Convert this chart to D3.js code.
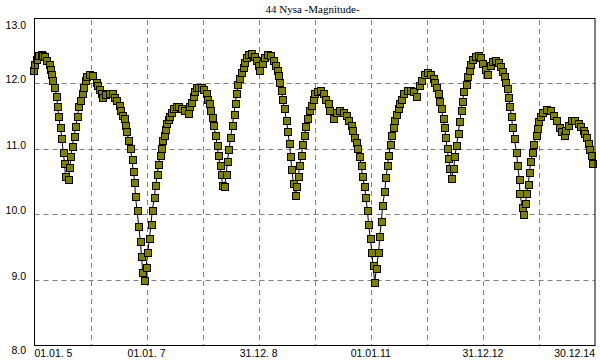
<!DOCTYPE html>
<html>
<head>
<meta charset="utf-8">
<script src="https://cdn.jsdelivr.net/npm/d3@7"></script>
<style>
  body { margin: 0; background: #fff; }
  svg { display: block; }
  .tick-label { font-family: "Liberation Sans", Arial, sans-serif; font-size: 10.5px; fill: #000; }
  .title { font-family: "Liberation Serif", "Times New Roman", serif; font-size: 11px; fill: #000; }
</style>
</head>
<body>
<div id="chart"></div>
<script>
  // decimal year of each ephemeris point
  const years = [
    2004.98, 2005.00, 2005.03, 2005.08, 2005.12, 2005.15, 2005.18, 2005.22, 2005.26, 2005.28,
    2005.30, 2005.33, 2005.36, 2005.40, 2005.41, 2005.43, 2005.46, 2005.49, 2005.51, 2005.54,
    2005.55, 2005.60, 2005.63, 2005.65, 2005.67, 2005.71, 2005.73, 2005.77, 2005.79, 2005.82,
    2005.85, 2005.88, 2005.91, 2005.93, 2005.98, 2006.04, 2006.10, 2006.13, 2006.16, 2006.19,
    2006.22, 2006.27, 2006.33, 2006.39, 2006.43, 2006.47, 2006.51, 2006.53, 2006.57, 2006.60,
    2006.63, 2006.65, 2006.68, 2006.71, 2006.74, 2006.76, 2006.79, 2006.80, 2006.83, 2006.86,
    2006.89, 2006.91, 2006.93, 2006.96, 2006.99, 2007.02, 2007.05, 2007.08, 2007.10, 2007.14,
    2007.16, 2007.19, 2007.21, 2007.24, 2007.27, 2007.29, 2007.32, 2007.34, 2007.36, 2007.39,
    2007.41, 2007.45, 2007.48, 2007.53, 2007.57, 2007.63, 2007.68, 2007.74, 2007.77, 2007.80,
    2007.83, 2007.86, 2007.89, 2007.93, 2007.98, 2008.02, 2008.06, 2008.09, 2008.12, 2008.14,
    2008.17, 2008.20, 2008.23, 2008.26, 2008.28, 2008.31, 2008.33, 2008.36, 2008.39, 2008.42,
    2008.44, 2008.47, 2008.50, 2008.53, 2008.56, 2008.58, 2008.61, 2008.63, 2008.66, 2008.69,
    2008.72, 2008.75, 2008.78, 2008.82, 2008.88, 2008.93, 2008.96, 2009.00, 2009.02, 2009.06,
    2009.11, 2009.16, 2009.21, 2009.26, 2009.30, 2009.33, 2009.36, 2009.38, 2009.41, 2009.43,
    2009.46, 2009.50, 2009.52, 2009.55, 2009.57, 2009.59, 2009.62, 2009.66, 2009.68, 2009.71,
    2009.73, 2009.76, 2009.79, 2009.82, 2009.84, 2009.87, 2009.91, 2009.94, 2009.97, 2010.00,
    2010.05, 2010.11, 2010.15, 2010.20, 2010.24, 2010.27, 2010.33, 2010.39, 2010.45, 2010.52,
    2010.57, 2010.61, 2010.66, 2010.68, 2010.71, 2010.74, 2010.77, 2010.80, 2010.83, 2010.85,
    2010.89, 2010.91, 2010.94, 2010.96, 2010.99, 2011.02, 2011.04, 2011.07, 2011.10, 2011.14,
    2011.16, 2011.19, 2011.21, 2011.25, 2011.27, 2011.30, 2011.32, 2011.35, 2011.37, 2011.41,
    2011.43, 2011.46, 2011.49, 2011.52, 2011.55, 2011.59, 2011.65, 2011.71, 2011.77, 2011.82,
    2011.86, 2011.91, 2011.95, 2012.01, 2012.07, 2012.11, 2012.14, 2012.17, 2012.20, 2012.23,
    2012.26, 2012.29, 2012.32, 2012.34, 2012.36, 2012.39, 2012.41, 2012.44, 2012.48, 2012.50,
    2012.53, 2012.56, 2012.59, 2012.61, 2012.64, 2012.66, 2012.70, 2012.72, 2012.76, 2012.78,
    2012.82, 2012.86, 2012.92, 2012.96, 2013.00, 2013.04, 2013.08, 2013.13, 2013.17, 2013.23,
    2013.27, 2013.32, 2013.35, 2013.38, 2013.41, 2013.43, 2013.46, 2013.48, 2013.51, 2013.53,
    2013.56, 2013.60, 2013.62, 2013.65, 2013.66, 2013.70, 2013.72, 2013.76, 2013.78, 2013.81,
    2013.83, 2013.85, 2013.89, 2013.91, 2013.95, 2013.97, 2013.99, 2014.02, 2014.07, 2014.13,
    2014.20, 2014.26, 2014.32, 2014.36, 2014.41, 2014.45, 2014.48, 2014.52, 2014.58, 2014.64,
    2014.70, 2014.74, 2014.79, 2014.82, 2014.85, 2014.88, 2014.91, 2014.94, 2014.96
  ];

  const magnitudes = [
    12.19, 12.29, 12.37, 12.42, 12.44, 12.42, 12.41, 12.35, 12.29, 12.22,
    12.14, 12.04, 11.94, 11.80, 11.65, 11.50, 11.33, 11.15, 10.95, 10.77,
    10.58, 10.53, 10.71, 10.88, 11.04, 11.19, 11.34, 11.50, 11.64, 11.74,
    11.84, 11.94, 12.04, 12.11, 12.14, 12.12, 12.02, 11.97, 11.90, 11.84,
    11.78, 11.83, 11.85, 11.84, 11.79, 11.74, 11.66, 11.59, 11.51, 11.46,
    11.36, 11.26, 11.13, 11.00, 10.84, 10.66, 10.48, 10.27, 10.06, 9.81,
    9.58, 9.35, 9.11, 8.99, 9.19, 9.41, 9.63, 9.85, 10.06, 10.26,
    10.44, 10.60, 10.76, 10.89, 11.01, 11.12, 11.21, 11.30, 11.38, 11.45,
    11.50, 11.56, 11.61, 11.65, 11.64, 11.62, 11.58, 11.54, 11.64, 11.71,
    11.80, 11.88, 11.93, 11.94, 11.93, 11.90, 11.84, 11.76, 11.69, 11.59,
    11.48, 11.36, 11.21, 11.05, 10.90, 10.75, 10.60, 10.44, 10.42, 10.60,
    10.80, 10.99, 11.18, 11.36, 11.53, 11.70, 11.84, 11.98, 12.08, 12.17,
    12.25, 12.32, 12.40, 12.44, 12.45, 12.41, 12.35, 12.27, 12.19, 12.30,
    12.40, 12.44, 12.42, 12.35, 12.27, 12.20, 12.12, 12.02, 11.89, 11.75,
    11.61, 11.43, 11.26, 11.08, 10.88, 10.69, 10.47, 10.29, 10.42, 10.58,
    10.75, 10.90, 11.07, 11.21, 11.34, 11.47, 11.58, 11.66, 11.76, 11.84,
    11.88, 11.89, 11.84, 11.76, 11.69, 11.59, 11.47, 11.56, 11.59, 11.56,
    11.51, 11.43, 11.36, 11.28, 11.18, 11.09, 11.00, 10.88, 10.74, 10.58,
    10.43, 10.26, 10.06, 9.85, 9.63, 9.42, 9.21, 8.96, 9.17, 9.42,
    9.66, 9.89, 10.13, 10.35, 10.56, 10.74, 10.90, 11.07, 11.21, 11.33,
    11.43, 11.53, 11.61, 11.69, 11.76, 11.84, 11.89, 11.89, 11.87, 11.80,
    11.97, 12.05, 12.14, 12.17, 12.14, 12.08, 12.02, 11.94, 11.84, 11.73,
    11.61, 11.47, 11.32, 11.17, 11.00, 10.85, 10.70, 10.55, 10.70, 10.88,
    11.05, 11.24, 11.41, 11.58, 11.73, 11.87, 11.99, 12.10, 12.20, 12.29,
    12.36, 12.41, 12.42, 12.39, 12.31, 12.22, 12.14, 12.27, 12.34, 12.35,
    12.32, 12.26, 12.18, 12.10, 12.02, 11.92, 11.79, 11.65, 11.50, 11.32,
    11.15, 10.95, 10.75, 10.53, 10.32, 10.11, 10.00, 10.16, 10.31, 10.46,
    10.63, 10.80, 10.94, 11.07, 11.20, 11.31, 11.41, 11.50, 11.56, 11.60,
    11.58, 11.51, 11.43, 11.33, 11.26, 11.20, 11.28, 11.36, 11.43, 11.43,
    11.39, 11.34, 11.28, 11.23, 11.17, 11.08, 10.99, 10.89, 10.77
  ];

  const yTicks = [8, 9, 10, 11, 12, 13];
  const xTickYears = [2005, 2007, 2009, 2011, 2013, 2015];
  const xTickLabels = ["01.01. 5", "01.01. 7", "31.12. 8", "01.01.11", "31.12.12", "30.12.14"];
  const xGridYears = [2006, 2007, 2008, 2009, 2010, 2011, 2012, 2013, 2014];
  const yGrid = [9, 10, 11, 12];

  const width = 600, height = 360;
  const plot = { left: 34.5, right: 595, top: 18, bottom: 345 };

  const x = d3.scaleLinear().domain([2005, 2015]).range([plot.left, plot.right]);
  const y = d3.scaleLinear().domain([8, 13]).range([plot.bottom, plot.top]);

  const svg = d3.select("#chart").append("svg")
    .attr("width", width)
    .attr("height", height);

  svg.append("rect").attr("width", width).attr("height", height).attr("fill", "#fff");

  // dashed grid
  const grid = svg.append("g")
    .attr("stroke", "#808080")
    .attr("stroke-width", 1)
    .attr("stroke-dasharray", "5,4");

  grid.selectAll("line.v").data(xGridYears).join("line")
    .attr("class", "v")
    .attr("x1", d => Math.round(x(d)) + 0.5)
    .attr("x2", d => Math.round(x(d)) + 0.5)
    .attr("y1", plot.top + 2)
    .attr("y2", plot.bottom);

  grid.selectAll("line.h").data(yGrid).join("line")
    .attr("class", "h")
    .attr("x1", plot.left)
    .attr("x2", plot.right)
    .attr("y1", d => Math.round(y(d)) + 0.5)
    .attr("y2", d => Math.round(y(d)) + 0.5);

  const points = years.map((yr, i) => ({ yr, mag: magnitudes[i] }));

  // connecting line
  const line = d3.line().x(d => x(d.yr)).y(d => y(d.mag));
  svg.append("path")
    .datum(points)
    .attr("fill", "none")
    .attr("stroke", "#000")
    .attr("stroke-width", 1)
    .attr("d", line);

  // square markers
  const size = 7;
  svg.append("g").selectAll("rect").data(points).join("rect")
    .attr("x", d => Math.round(x(d.yr) - size / 2) + 0.5)
    .attr("y", d => Math.round(y(d.mag) - size / 2) + 0.5)
    .attr("width", size)
    .attr("height", size)
    .attr("fill", "#808000")
    .attr("stroke", "#000")
    .attr("stroke-width", 1);

  // frame
  svg.append("rect")
    .attr("x", plot.left)
    .attr("y", plot.top + 0.5)
    .attr("width", plot.right - plot.left)
    .attr("height", plot.bottom - plot.top)
    .attr("fill", "none")
    .attr("stroke", "#000")
    .attr("stroke-width", 1);

  // y labels
  svg.append("g").selectAll("text").data(yTicks).join("text")
    .attr("class", "tick-label")
    .attr("x", 26)
    .attr("y", d => d === 13 ? y(d) + 11 : d === 8 ? y(d) + 9 : y(d))
    .attr("text-anchor", "end")
    .text(d => d.toFixed(1));

  // x labels
  svg.append("g").selectAll("text").data(xTickLabels).join("text")
    .attr("class", "tick-label")
    .attr("x", (d, i) => x(xTickYears[i]))
    .attr("y", 357)
    .attr("text-anchor", (d, i) => i === 0 ? "start" : i === xTickLabels.length - 1 ? "end" : "middle")
    .text(d => d);

  svg.append("text")
    .attr("class", "title")
    .attr("x", 312.5)
    .attr("y", 13)
    .attr("text-anchor", "middle")
    .text("44 Nysa -Magnitude-");
</script>
</body>
</html>
